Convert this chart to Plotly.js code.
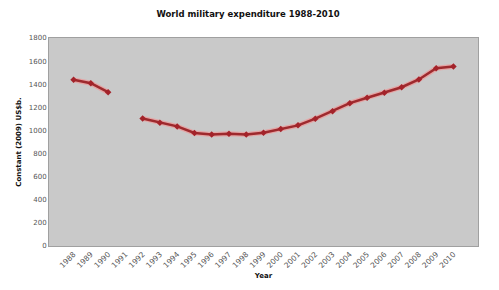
<!DOCTYPE html>
<html>
<head>
<meta charset="utf-8">
<script src="https://cdn.plot.ly/plotly-3.0.1.min.js"></script>
<style>html,body{margin:0;padding:0;background:#fff;}#chart{width:499px;height:290px;}</style>
</head>
<body>
<div id="chart"></div>
<script>
var years = ['1988','1989','1990','1991','1992','1993','1994','1995','1996','1997','1998','1999','2000','2001','2002','2003','2004','2005','2006','2007','2008','2009','2010'];
var spending = [1438,1409,1331,null,1104,1067,1035,978,964,972,964,981,1012,1044,1102,1167,1236,1283,1326,1374,1441,1538,1553];
var yTicks = [0,200,400,600,800,1000,1200,1400,1600,1800];

var halo = {
  x: years, y: spending, type: 'scatter', mode: 'lines',
  line: {color: 'rgba(240,150,150,0.7)', width: 5},
  connectgaps: false, hoverinfo: 'skip', showlegend: false
};
var main = {
  x: years, y: spending, type: 'scatter', mode: 'lines+markers',
  line: {color: '#9e2a2e', width: 2.5},
  marker: {symbol: 'diamond', size: 5, color: '#a3232a'},
  connectgaps: false, showlegend: false
};

var layout = {
  width: 499, height: 290,
  margin: {l: 49, r: 21, t: 38, b: 44},
  paper_bgcolor: '#ffffff',
  plot_bgcolor: '#c9c9c9',
  font: {family: 'DejaVu Sans, Verdana, sans-serif', color: '#444', size: 7},
  title: {text: '<b>World military expenditure 1988-2010</b>', font: {size: 8.5, color: '#111'}, x: 0.497, xanchor: 'center', y: 0.95, yanchor: 'middle'},
  xaxis: {
    type: 'category', tickangle: -45, showgrid: false, zeroline: false,
    showline: true, linecolor: '#a0a0a0', mirror: true, ticks: '',
    tickfont: {size: 7.5, color: '#555'},
    title: {text: '<b>Year</b>', font: {size: 7, color: '#111'}, standoff: 4}
  },
  yaxis: {
    range: [0, 1800], tickvals: yTicks, showgrid: false, zeroline: false,
    showline: true, linecolor: '#a0a0a0', mirror: true, ticks: '',
    tickfont: {size: 7, color: '#555'},
    title: {text: '<b>Constant (2009) US$b.</b>', font: {size: 7, color: '#111'}, standoff: 6}
  }
};
Plotly.newPlot('chart', [halo, main], layout, {displayModeBar: false, staticPlot: true});
</script>
</body>
</html>
